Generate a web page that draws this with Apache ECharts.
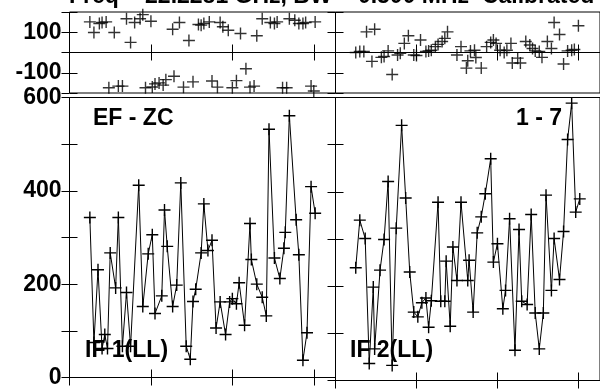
<!DOCTYPE html>
<html>
<head>
<meta charset="utf-8">
<script src="https://cdn.jsdelivr.net/npm/echarts@6/dist/echarts.min.js"></script>
<style>
  html, body { margin: 0; padding: 0; background: #fff; }
  #fig_vplot { width: 600px; height: 389px; }
</style>
</head>
<body>
<div id="fig_vplot"></div>
<script>
// times are minutes from the left edge of each panel (ticks every hour)
var left_amp_time = [15,18,21,24,26,28,30,34,36,39,42,45,51,54,58,61,63,68,70,72,76,79,82,86,89,91,93,97,99,102,105,108,111,115,118,120,123,125,129,133,134,138,142,145,147,151,155,158,159,162,167,169,172,175,178,181];
var left_amp = [343,75,231,62,92,62,267,192,343,67,182,67,412,152,265,306,137,175,359,281,152,198,417,67,39,163,189,267,372,272,294,106,162,92,162,169,158,203,112,330,253,200,172,132,532,256,212,277,311,561,338,263,37,96,409,352];

var left_phase_time = [15,18,22,24,27,29,33,36,39,42,45,48,52,54,56,60,61,63,66,69,71,76,77,81,84,88,91,95,97,99,103,105,109,111,113,117,120,123,126,130,133,136,138,142,148,151,153,157,160,162,166,169,172,174,178,180,181];
var left_phase = [151,99,143,148,151,-174,99,-166,-166,167,50,148,167,187,-174,154,-170,-155,-150,-161,-134,115,-117,148,-171,59,-145,138,135,143,151,-141,-171,148,127,110,-174,-139,94,-80,-171,-166,83,167,148,143,151,-174,-174,167,159,143,143,148,-166,-190,151];

var right_amp_time = [15,18,22,25,28,29,33,36,39,42,45,49,52,55,58,61,64,67,69,71,76,78,81,82,85,87,90,93,98,99,102,105,108,111,115,117,120,124,126,129,133,136,138,142,145,148,151,154,156,160,162,166,169,172,175,178,181];
var right_amp = [239,340,301,36,198,67,234,299,422,32,323,541,387,230,145,135,165,175,113,169,378,168,168,253,115,283,212,378,212,255,145,313,347,396,470,251,290,152,191,343,64,320,168,161,352,143,67,143,393,191,301,214,316,511,588,357,385];

var right_phase_time = [15,18,21,23,27,29,34,36,39,42,46,48,51,54,58,60,63,67,69,71,74,76,79,81,83,90,93,97,98,100,103,104,108,112,115,117,119,122,125,127,130,131,135,137,141,144,146,148,151,153,157,160,162,166,169,172,175,177,180];
var right_phase = [0,5,5,102,-44,115,-24,-20,8,-109,-12,-4,45,83,-12,-15,62,5,8,11,29,40,54,70,102,-12,29,-77,-41,8,11,-25,-77,29,50,62,45,11,0,11,45,-52,-28,-52,54,37,20,8,5,-24,54,20,148,89,-57,8,11,15,132];

var amp_labels = [0, 200, 400, 600];
var phase_labels = [-100, 100];
var title_text = 'Freq = 22.2281 GHz, BW = 0.500 MHz  Calibrated';
var baseline_text = 'EF - ZC';
var pair_text = '1 - 7';
var if_text = ['IF 1(LL)', 'IF 2(LL)'];

var label_font = 'Liberation Sans';
var cross = 'path://M0,5.3H12V6.7H0ZM5.3,0H6.7V12H5.3Z';

function pairs(ts, vs) {
    return ts.map(function(t, i) { return [t, vs[i]]; });
}

// phase panels on top, amplitude panels below
var panels = [
    {left: 69.5, top: 12, height: 81, min: -200, max: 200, labels: phase_labels, show_label: true},
    {left: 335.5, top: 12, height: 81, min: -200, max: 200, labels: phase_labels, show_label: false},
    {left: 69.5, top: 97.5, height: 283, min: 0, max: 600, labels: amp_labels, show_label: true},
    {left: 335.5, top: 97.5, height: 283, min: 0, max: 600, labels: amp_labels, show_label: false}
];

var tick = {show: true, inside: true, length: 8, lineStyle: {color: '#000', width: 1}};

var grids = [], x_axes = [], y_axes = [];
panels.forEach(function(p, i) {
    grids.push({
        left: p.left, top: p.top, width: 266, height: p.height,
        show: true, borderColor: '#000', borderWidth: 1,
        containLabel: false
    });
    ['bottom', 'top'].forEach(function(pos) {
        x_axes.push({
            type: 'value', gridIndex: i, position: pos,
            min: 0, max: 196, interval: 60,
            axisLine: {show: false}, axisTick: tick,
            axisLabel: {show: false}, splitLine: {show: false}
        });
    });
    ['left', 'right'].forEach(function(pos) {
        y_axes.push({
            type: 'value', gridIndex: i, position: pos,
            min: p.min, max: p.max, interval: 100,
            axisLine: {show: false}, axisTick: tick, splitLine: {show: false},
            axisLabel: {
                show: p.show_label && pos == 'left',
                margin: 8,
                color: '#000',
                fontFamily: label_font,
                fontWeight: 'bold',
                fontSize: 23,
                formatter: function(v) {
                    return p.labels.indexOf(v) >= 0 ? String(v) : '';
                }
            }
        });
    });
});

function phase_series(idx, ts, vs) {
    return {
        type: 'scatter', xAxisIndex: idx * 2, yAxisIndex: idx * 2,
        data: pairs(ts, vs),
        symbol: cross, symbolSize: 12,
        itemStyle: {color: '#000'},
        markLine: {
            silent: true, symbol: ['none', 'none'],
            label: {show: false},
            lineStyle: {color: '#000', width: 1, type: 'solid'},
            data: [{yAxis: 0}]
        }
    };
}

function amp_series(idx, ts, vs) {
    return {
        type: 'line', xAxisIndex: idx * 2, yAxisIndex: idx * 2,
        data: pairs(ts, vs),
        symbol: cross, symbolSize: 12, showSymbol: true,
        itemStyle: {color: '#000'},
        lineStyle: {color: '#000', width: 1}
    };
}

function text_el(str, x, y, align) {
    return {
        type: 'text', x: x, y: y, silent: true,
        style: {
            text: str, fill: '#000', align: align, verticalAlign: 'middle',
            font: 'bold 23px "' + label_font + '"'
        }
    };
}

var option = {
    animation: false,
    backgroundColor: '#fff',
    grid: grids,
    xAxis: x_axes,
    yAxis: y_axes,
    series: [
        phase_series(0, left_phase_time, left_phase),
        phase_series(1, right_phase_time, right_phase),
        amp_series(2, left_amp_time, left_amp),
        amp_series(3, right_amp_time, right_amp)
    ],
    graphic: [
        text_el(title_text, 69, -3, 'left'),
        text_el(baseline_text, 93, 119, 'left'),
        text_el(pair_text, 562, 119, 'right'),
        text_el(if_text[0], 85, 351, 'left'),
        text_el(if_text[1], 350, 351, 'left')
    ]
};

var chart = echarts.init(document.getElementById('fig_vplot'));
chart.setOption(option);
</script>
</body>
</html>
